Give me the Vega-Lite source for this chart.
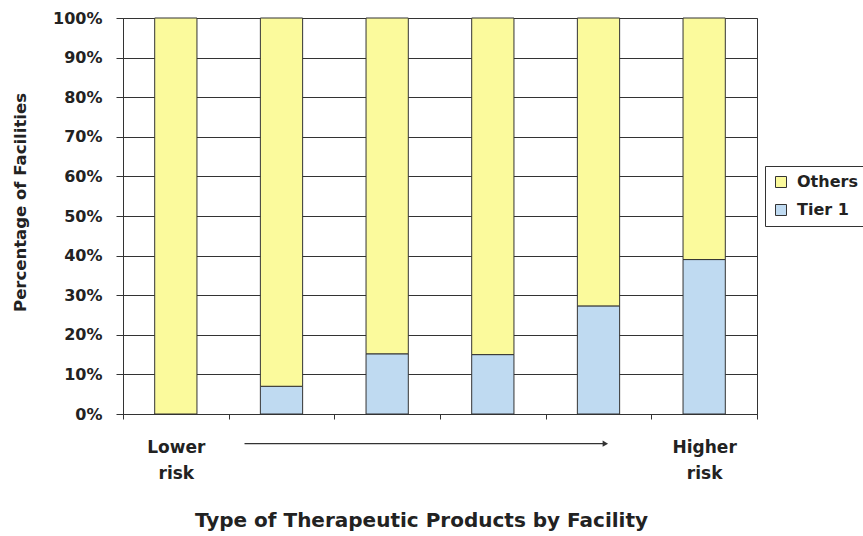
{
  "$schema": "https://vega.github.io/schema/vega-lite/v6.json",
  "width": 634,
  "height": 396,
  "autosize": "none",
  "padding": {"left": 123, "top": 18, "right": 106, "bottom": 122},
  "background": "white",
  "config": {
    "view": {"stroke": "#333", "strokeWidth": 1},
    "font": "DejaVu Sans"
  },
  "data": {
    "values": [
      {"cat": "1", "series": "Tier 1", "k": 1, "value": 0.0},
      {"cat": "1", "series": "Others", "k": 2, "value": 1.0},
      {"cat": "2", "series": "Tier 1", "k": 1, "value": 0.07},
      {"cat": "2", "series": "Others", "k": 2, "value": 0.93},
      {"cat": "3", "series": "Tier 1", "k": 1, "value": 0.152},
      {"cat": "3", "series": "Others", "k": 2, "value": 0.848},
      {"cat": "4", "series": "Tier 1", "k": 1, "value": 0.15},
      {"cat": "4", "series": "Others", "k": 2, "value": 0.85},
      {"cat": "5", "series": "Tier 1", "k": 1, "value": 0.273},
      {"cat": "5", "series": "Others", "k": 2, "value": 0.727},
      {"cat": "6", "series": "Tier 1", "k": 1, "value": 0.39},
      {"cat": "6", "series": "Others", "k": 2, "value": 0.61}
    ]
  },
  "encoding": {
    "y": {
      "field": "value",
      "type": "quantitative",
      "scale": {"domain": [0, 1], "nice": false},
      "axis": {
        "values": [0, 0.1, 0.2, 0.3, 0.4, 0.5, 0.6, 0.7, 0.8, 0.9, 1.0],
        "labelOverlap": false,
        "format": ".0%",
        "labelFont": "DejaVu Sans",
        "labelFontSize": 16,
        "labelFontWeight": "bold",
        "labelColor": "#222",
        "labelPadding": 14,
        "tickSize": 7,
        "tickColor": "#333",
        "domainColor": "#333",
        "grid": true,
        "gridColor": "#333",
        "gridOpacity": 1,
        "title": "Percentage of Facilities",
        "titleFont": "DejaVu Sans",
        "titleFontSize": 16.5,
        "titleFontWeight": "bold",
        "titleColor": "#222",
        "titlePadding": 24,
        "titleY": 184
      }
    }
  },
  "layer": [
    {
      "mark": {"type": "bar", "width": {"band": 0.4}, "stroke": "#333", "strokeWidth": 1},
      "encoding": {
        "x": {
          "field": "cat",
          "type": "ordinal",
          "scale": {"paddingInner": 0, "paddingOuter": 0},
          "axis": {
            "labelExpr": "datum.value == '1' ? ['Lower','risk'] : datum.value == '6' ? ['Higher','risk'] : ''",
            "labelAngle": 0,
            "labelFont": "DejaVu Sans",
            "labelFontSize": 17,
            "labelFontWeight": "bold",
            "labelColor": "#222",
            "labelLineHeight": 26,
            "labelPadding": 20,
            "tickBand": "extent",
            "tickSize": 5,
            "tickColor": "#333",
            "domainColor": "#333",
            "grid": false,
            "title": "Type of Therapeutic Products by Facility",
            "titleFont": "DejaVu Sans",
            "titleFontSize": 20,
            "titleFontWeight": "bold",
            "titleColor": "#222",
            "titlePadding": 29,
            "titleX": 298
          }
        },
        "color": {
          "field": "series",
          "type": "nominal",
          "scale": {"domain": ["Others", "Tier 1"], "range": ["#FBFA9C", "#BFDAF1"]},
          "legend": {
            "title": null,
            "orient": "none",
            "legendX": 642,
            "legendY": 148,
            "symbolType": "square",
            "symbolSize": 121,
            "symbolStrokeColor": "#333",
            "symbolStrokeWidth": 1,
            "labelFont": "DejaVu Sans",
            "labelFontSize": 16,
            "labelFontWeight": "bold",
            "labelColor": "#222",
            "labelOffset": 8,
            "rowPadding": 12,
            "strokeColor": "#333",
            "padding": 8,
            "fillColor": "white"
          }
        },
        "order": {"field": "k", "type": "quantitative"}
      }
    },
    {
      "data": {"values": [{"a": 1.15, "b": 4.55, "value": -0.075}]},
      "mark": {"type": "rule", "stroke": "#333", "strokeWidth": 1.2},
      "encoding": {
        "x": {"field": "a", "type": "quantitative", "scale": {"domain": [0, 6]}, "axis": null},
        "x2": {"field": "b"}
      }
    },
    {
      "data": {"values": [{"b": 4.565, "value": -0.075}]},
      "mark": {"type": "point", "shape": "triangle-right", "filled": true, "color": "#333", "opacity": 1, "size": 40},
      "encoding": {
        "x": {"field": "b", "type": "quantitative", "scale": {"domain": [0, 6]}, "axis": null}
      }
    }
  ],
  "resolve": {"scale": {"x": "independent"}}
}
